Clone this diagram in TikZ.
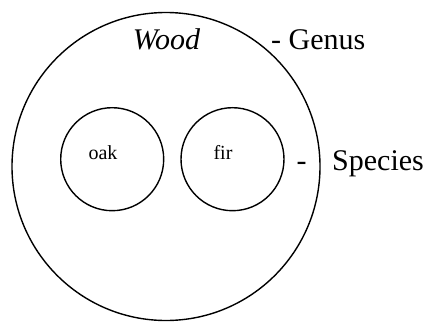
\documentclass[tikz,border=0pt]{standalone}
\usepackage{fontspec}
\setmainfont{Liberation Serif}
\begin{document}
\begin{tikzpicture}[x=1pt,y=1pt,
  ring/.style={draw=black,line width=1.4pt,circle,inner sep=0pt},
  big/.style={font=\fontsize{30}{34}\selectfont,inner sep=0pt},
  small/.style={font=\fontsize{20}{24}\selectfont,inner sep=0pt}]
\useasboundingbox (0,0) rectangle (431,322);
\node[ring,minimum size=308pt] (genus) at (166,155.5) {};
\node[ring,minimum size=103pt] (oak) at (112.2,162.8) {};
\node[ring,minimum size=103pt] (fir) at (232.5,162.8) {};
\node[big,anchor=base] (wood) at (166.5,272) {\itshape Wood};
\node[big,anchor=base west] (glabel) at (271,272) {- Genus};
\node[big,anchor=base] (dash) at (301.5,152) {-};
\node[big,anchor=base west] (slabel) at (332,152) {Species};
\node[small,anchor=base] (oaktext) at (103,163) {oak};
\node[small,anchor=base] (firtext) at (223,163) {fir};
\end{tikzpicture}
\end{document}
